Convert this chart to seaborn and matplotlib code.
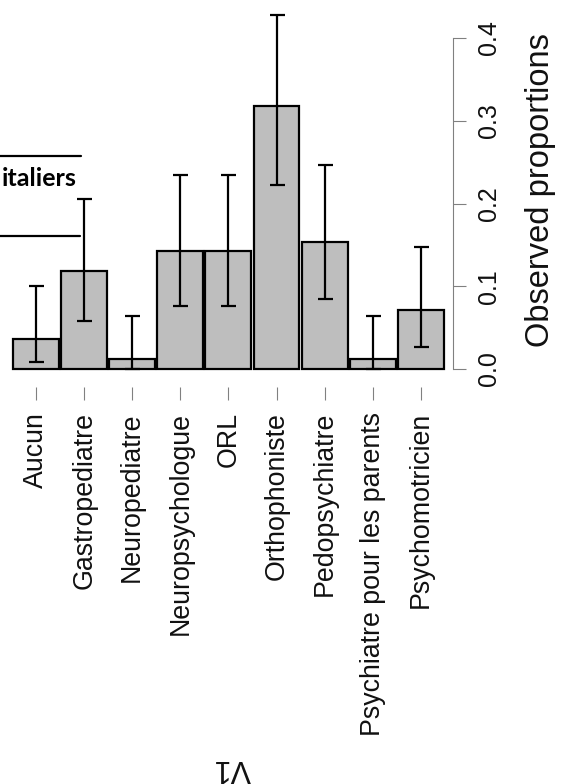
import numpy as np
import pandas as pd
import matplotlib
matplotlib.use("Agg")
import matplotlib.pyplot as plt
import seaborn as sns

# ---------------- DATA ----------------
categories = ["Aucun", "Gastropediatre", "Neuropediatre", "Neuropsychologue", "ORL",
              "Orthophoniste", "Pedopsychiatre", "Psychiatre pour les parents", "Psychomotricien"]
proportions = [0.036, 0.118, 0.012, 0.142, 0.142, 0.318, 0.153, 0.012, 0.071]
ci_low = [0.009, 0.058, 0.0003, 0.076, 0.076, 0.222, 0.084, 0.0003, 0.027]
ci_high = [0.100, 0.206, 0.064, 0.234, 0.234, 0.428, 0.247, 0.064, 0.147]
y_ticks = [0.0, 0.1, 0.2, 0.3, 0.4]

# ---------------- STYLE ----------------
sns.set_style("white")
plt.rcParams["font.family"] = ["Liberation Sans", "DejaVu Sans"]

W, H = 562, 784
fig = plt.figure(figsize=(W / 100, H / 100), dpi=100)

# axes in pixel coords: left 0, right 453, top 5, bottom 387
ax = fig.add_axes([0, 1 - 387 / H, 453 / W, (387 - 5) / H])

df = pd.DataFrame({"cat": categories, "prop": proportions})
sns.barplot(data=df, x="cat", y="prop", color="#bebebe", saturation=1,
            width=0.956, edgecolor="black", linewidth=1.6, errorbar=None, ax=ax)

vals = np.array(proportions)
pos = np.arange(len(categories))
ax.errorbar(pos, vals, yerr=[vals - np.array(ci_low), np.array(ci_high) - vals],
            fmt="none", ecolor="black", elinewidth=1.6, capsize=5.4, capthick=1.6)

ax.set_xlim(-0.75, 8.67)
ax.set_ylim((369 - 387) / 827.5, (369 - 5) / 827.5)

for s in ["top", "left", "bottom"]:
    ax.spines[s].set_visible(False)
ax.spines["right"].set_bounds(0, 0.4)
ax.spines["right"].set_color("#808080")
ax.spines["right"].set_linewidth(0.8)

ax.yaxis.tick_right()
ax.set_yticks(y_ticks)
ax.set_yticklabels([f"{t:.1f}" for t in y_ticks], rotation=90, va="center")
ax.tick_params(axis="y", direction="out", length=9.4, width=0.8, color="#808080",
               pad=8, labelsize=18, labelcolor="#111111")

ax.set_xticks(pos)
ax.set_xticklabels(categories, rotation=90, ha="center", va="top")
ax.tick_params(axis="x", direction="out", length=9.4, width=0.8, color="#808080",
               pad=8.6, labelsize=19.3, labelcolor="#111111", bottom=True)
ax.set_xlabel("")
ax.set_ylabel("")

fig.text(540 / W, 1 - 190 / H, "Observed proportions", rotation=90, ha="center", va="center",
         fontsize=23.5, color="#111111")
fig.text(232 / W, 1 - 768 / H, "V1", rotation=180, ha="center", va="center",
         fontsize=22, color="#111111")

# fragment of an overlaid table
fig.add_artist(plt.Line2D([0, 81 / W], [1 - 156 / H, 1 - 156 / H], color="black", lw=1.6))
fig.add_artist(plt.Line2D([0, 80 / W], [1 - 236 / H, 1 - 236 / H], color="black", lw=1.6))
fig.text(77 / W, 1 - 186 / H, "italiers", ha="right", va="baseline",
         fontsize=18, fontweight="bold", family=["Lato", "DejaVu Sans"], color="black")

fig.savefig("out.png", dpi=100)
